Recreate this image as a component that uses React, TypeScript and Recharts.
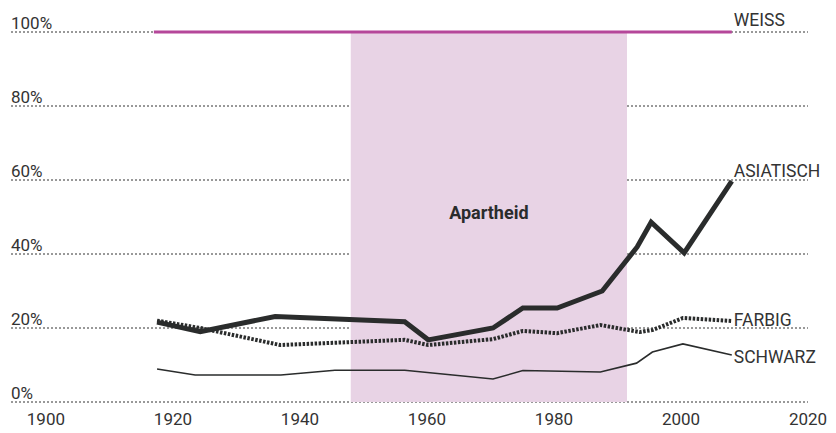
import { CartesianGrid, Line, LineChart, ReferenceArea, XAxis, YAxis } from 'recharts';

const yearTicks = [1900, 1920, 1940, 1960, 1980, 2000, 2020];
const pctTicks = [0, 20, 40, 60, 80, 100];

const weiss = [
  { year: 1917, value: 100 },
  { year: 2008, value: 100 },
];

const asiatisch = [
  { year: 1917.5, value: 21.6 },
  { year: 1924.3, value: 19.0 },
  { year: 1936.1, value: 23.1 },
  { year: 1956.5, value: 21.7 },
  { year: 1960.2, value: 16.8 },
  { year: 1970.4, value: 20.0 },
  { year: 1975.1, value: 25.4 },
  { year: 1980.5, value: 25.4 },
  { year: 1987.6, value: 30.0 },
  { year: 1993.1, value: 41.9 },
  { year: 1995.3, value: 48.6 },
  { year: 2000.5, value: 40.3 },
  { year: 2008, value: 59.7 },
];

const farbig = [
  { year: 1917.5, value: 22.0 },
  { year: 1924.3, value: 20.0 },
  { year: 1936.9, value: 15.4 },
  { year: 1956.5, value: 16.8 },
  { year: 1960.2, value: 15.4 },
  { year: 1970.4, value: 17.0 },
  { year: 1975.1, value: 19.2 },
  { year: 1980.5, value: 18.6 },
  { year: 1987.3, value: 20.8 },
  { year: 1993.5, value: 18.9 },
  { year: 1995.6, value: 19.5 },
  { year: 2000.3, value: 22.7 },
  { year: 2008, value: 21.9 },
];

const schwarz = [
  { year: 1917.5, value: 8.9 },
  { year: 1923.5, value: 7.3 },
  { year: 1937, value: 7.3 },
  { year: 1945.5, value: 8.6 },
  { year: 1956.5, value: 8.6 },
  { year: 1970.4, value: 6.2 },
  { year: 1975.1, value: 8.5 },
  { year: 1987.3, value: 8.1 },
  { year: 1993, value: 10.5 },
  { year: 1995.5, value: 13.5 },
  { year: 2000.3, value: 15.7 },
  { year: 2008, value: 12.7 },
];

const apartheid = { from: 1948, to: 1991.5 };

const FONT = 'Roboto, sans-serif';
const TEXT = '#333';
const INK = '#2a2c2c';

function endLabel(text: string, count: number, dy: number) {
  return (props: any) => {
    if (props.index !== count - 1) return null;
    return (
      <text x={props.x + 2} y={props.y + dy} fill={TEXT} fontSize={17.5} fontFamily={FONT}>
        {text}
      </text>
    );
  };
}

function XTick(props: any) {
  const { x, y, payload } = props;
  return (
    <text x={x} y={y + 15} textAnchor="middle" fill={TEXT} fontSize={17} fontFamily={FONT}>
      {payload.value}
    </text>
  );
}

function YTick(props: any) {
  const { y, payload } = props;
  return (
    <text x={11} y={y - 3} fill={TEXT} fontSize={17} fontFamily={FONT}>
      {payload.value}%
    </text>
  );
}

function BandLabel(props: any) {
  const { viewBox } = props;
  return (
    <text
      x={viewBox.x + viewBox.width / 2}
      y={viewBox.y + viewBox.height / 2 - 3}
      textAnchor="middle"
      dominantBaseline="middle"
      fill={INK}
      fontSize={18}
      fontWeight="bold"
      fontFamily={FONT}
    >
      Apartheid
    </text>
  );
}

export default function App() {
  return (
    <div style={{ position: 'absolute', left: 0, top: 0 }}>
      <LineChart width={836} height={433} margin={{ top: 32, right: 28, bottom: 0, left: 1 }}>
        <ReferenceArea x1={apartheid.from} x2={apartheid.to} y1={0} y2={100} fill="#e8d3e5" fillOpacity={1} stroke="none" label={<BandLabel />} />
        <CartesianGrid vertical={false} stroke="#333" strokeDasharray="2 2" strokeWidth={1} />
        <XAxis
          type="number"
          dataKey="year"
          domain={[1894.5, 2020]}
          ticks={yearTicks}
          axisLine={false}
          tickLine={false}
          height={31}
          tick={<XTick />}
          allowDataOverflow
        />
        <YAxis
          type="number"
          domain={[0, 100]}
          ticks={pctTicks}
          width={10}
          interval={0}
          axisLine={false}
          tickLine={false}
          tick={<YTick />}
        />
        <Line data={weiss} dataKey="value" stroke="#b5479a" strokeWidth={3} dot={false} isAnimationActive={false} label={endLabel('WEISS', weiss.length, -6)} />
        <Line data={schwarz} dataKey="value" stroke={INK} strokeWidth={1.6} dot={false} isAnimationActive={false} label={endLabel('SCHWARZ', schwarz.length, 8)} />
        <Line data={farbig} dataKey="value" stroke={INK} strokeWidth={4} strokeDasharray="2.5 1.5" dot={false} isAnimationActive={false} label={endLabel('FARBIG', farbig.length, 5)} />
        <Line data={asiatisch} dataKey="value" stroke={INK} strokeWidth={5} strokeLinejoin="miter" dot={false} isAnimationActive={false} label={endLabel('ASIATISCH', asiatisch.length, -4)} />
      </LineChart>
    </div>
  );
}
